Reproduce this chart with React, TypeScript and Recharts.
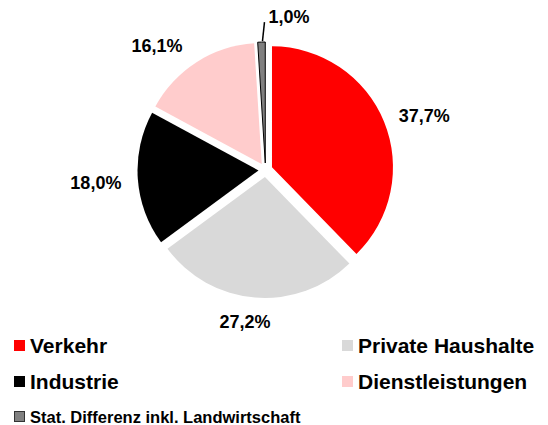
import React from 'react'
import { PieChart, Pie, Cell, Legend } from 'recharts'

// Anteile am Endenergieverbrauch, im Uhrzeigersinn ab 12 Uhr
const CATEGORIES = ['Verkehr', 'Private Haushalte', 'Industrie', 'Dienstleistungen', 'Stat. Differenz inkl. Landwirtschaft']
const SHARES = [37.7, 27.2, 18.0, 16.1, 1.0]
const COLORS = ['#ff0000', '#d9d9d9', '#000000', '#ffcccc', '#808080']

const FONT = '"Liberation Sans", Arial, sans-serif'
const CX = 265.5
const CY = 170
const RADIUS = 121
const EXPLODE = 7
const LABEL_GAP = 12
// small hand nudges so the labels sit where the original put them
const LABEL_NUDGE: [number, number][] = [[5, 2], [-7, 4], [-4, 3], [-19, 1], [0, 0]]

const data = CATEGORIES.map((name, i) => ({ name, value: SHARES[i] }))
const total = SHARES.reduce((a, b) => a + b, 0)

const midAngles = SHARES.map((v, i) => {
  const before = SHARES.slice(0, i).reduce((a, b) => a + b, 0)
  return 90 - (360 * (before + v / 2)) / total
})

const fmt = (v: number) => `${v.toFixed(1).replace('.', ',')}%`

const makeLabel = (slice: number) => (props: any) => {
  const { cx, cy, midAngle, outerRadius, index, value } = props
  if (index !== slice) return null
  const rad = (midAngle * Math.PI) / 180
  const dx = Math.cos(rad)
  const dy = -Math.sin(rad)
  const textStyle = { fontFamily: FONT, fontSize: 18, fontWeight: 700, fill: '#000' }

  if (value < 3) {
    // tiny slice gets a leader line
    const x0 = cx + outerRadius * dx
    const y0 = cy + outerRadius * dy
    return (
      <g>
        <line x1={x0 + 1} y1={y0 - 1} x2={x0 + 3} y2={y0 - 20} stroke="#000" strokeWidth={1.5} />
        <text x={x0 + 7} y={y0 - 25} textAnchor="start" dominantBaseline="central" style={textStyle}>
          {fmt(value)}
        </text>
      </g>
    )
  }

  const w = 52
  const h = 16
  const px = cx + (outerRadius + LABEL_GAP) * dx
  const py = cy + (outerRadius + LABEL_GAP) * dy
  const [nx, ny] = LABEL_NUDGE[slice]
  return (
    <text
      x={px + (dx * w) / 2 + nx}
      y={py + (dy * h) / 2 + ny}
      textAnchor="middle"
      dominantBaseline="central"
      style={textStyle}
    >
      {fmt(value)}
    </text>
  )
}

const LEGEND_ROWS = [[0, 1], [2, 3], [4]]
const ROW_TOPS = [0, 36, 73.5]

const LegendBox = () => (
  <div style={{ position: 'relative', width: 548, height: 92, fontFamily: FONT, fontWeight: 700, color: '#000' }}>
    {LEGEND_ROWS.map((row, r) =>
      row.map((idx, c) => {
        const small = idx === 4
        return (
          <div
            key={idx}
            style={{
              display: 'flex',
              alignItems: 'center',
              position: 'absolute',
              left: c === 0 ? 14 : 342,
              top: ROW_TOPS[r],
              height: small ? 16 : 21
            }}
          >
            <span
              style={{
                display: 'inline-block',
                width: small ? 9 : 11,
                height: small ? 9 : 11,
                background: COLORS[idx],
                border: small ? '1px solid #333' : 'none',
                marginRight: 5
              }}
            />
            <span style={{ fontSize: small ? 16.5 : 21, lineHeight: small ? '16px' : '21px', whiteSpace: 'nowrap' }}>
              {CATEGORIES[idx]}
            </span>
          </div>
        )
      })
    )}
  </div>
)

export default function App() {
  return (
    <div style={{ position: 'absolute', left: 0, top: 0, width: 548, height: 425, background: '#fff' }}>
      <PieChart width={548} height={425} margin={{ top: 0, right: 0, bottom: 0, left: 0 }}>
        {SHARES.map((_, slice) => {
          const rad = (midAngles[slice] * Math.PI) / 180
          return (
            <Pie
              key={slice}
              data={data}
              dataKey="value"
              nameKey="name"
              cx={CX + EXPLODE * Math.cos(rad)}
              cy={CY - EXPLODE * Math.sin(rad)}
              outerRadius={RADIUS}
              startAngle={90}
              endAngle={-270}
              isAnimationActive={false}
              labelLine={false}
              label={makeLabel(slice)}
            >
              {data.map((d, i) => (
                <Cell
                  key={d.name}
                  fill={i === slice ? COLORS[i] : 'transparent'}
                  stroke={i === slice && i === 4 ? '#000' : 'none'}
                  strokeWidth={i === slice && i === 4 ? 1 : 0}
                />
              ))}
            </Pie>
          )
        })}
        <Legend
          content={<LegendBox />}
          wrapperStyle={{ position: 'absolute', left: 0, top: 335, width: 548 }}
        />
      </PieChart>
    </div>
  )
}
